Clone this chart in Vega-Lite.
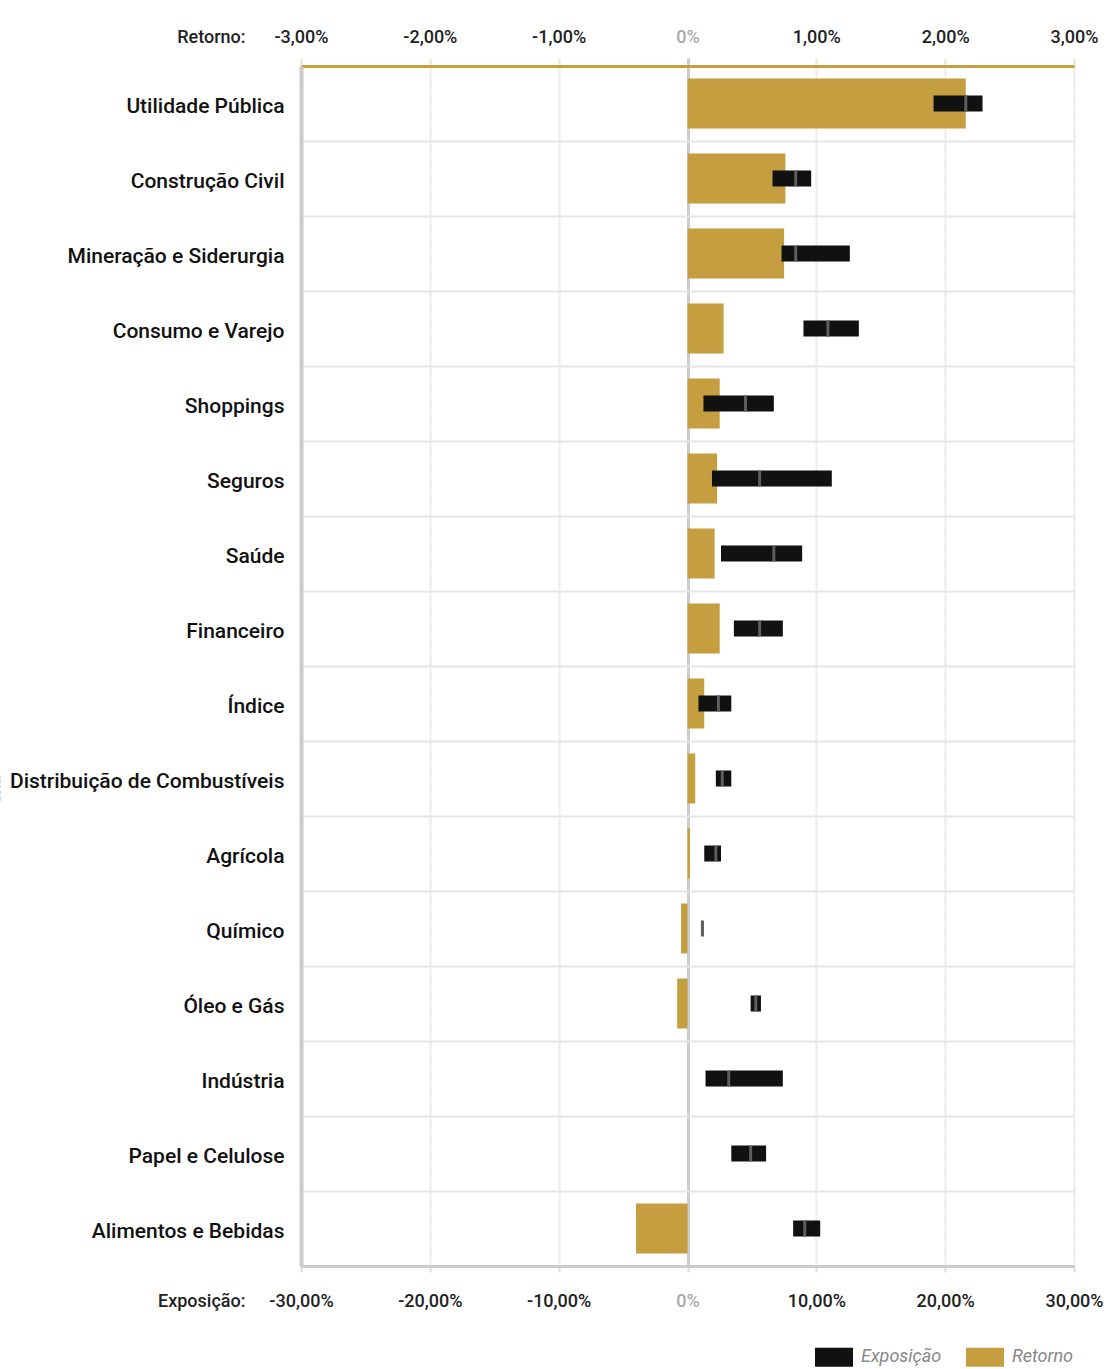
{
  "$schema": "https://vega.github.io/schema/vega-lite/v6.json",
  "width": 773,
  "height": 1200,
  "autosize": {"type": "none"},
  "padding": {"left": 301, "top": 66, "right": 45, "bottom": 103},
  "background": "#ffffff",
  "config": {
    "font": "Roboto",
    "view": {"stroke": null}
  },
  "data": {
    "values": [
      {"setor": "Utilidade Pública", "retorno": 0.0216, "expMin": 0.191, "expMax": 0.229, "expAtual": 0.216},
      {"setor": "Construção Civil", "retorno": 0.0076, "expMin": 0.066, "expMax": 0.096, "expAtual": 0.084},
      {"setor": "Mineração e Siderurgia", "retorno": 0.0075, "expMin": 0.073, "expMax": 0.126, "expAtual": 0.084},
      {"setor": "Consumo e Varejo", "retorno": 0.0028, "expMin": 0.090, "expMax": 0.133, "expAtual": 0.109},
      {"setor": "Shoppings", "retorno": 0.0025, "expMin": 0.0124, "expMax": 0.067, "expAtual": 0.045},
      {"setor": "Seguros", "retorno": 0.0023, "expMin": 0.019, "expMax": 0.112, "expAtual": 0.056},
      {"setor": "Saúde", "retorno": 0.0021, "expMin": 0.026, "expMax": 0.089, "expAtual": 0.067},
      {"setor": "Financeiro", "retorno": 0.0025, "expMin": 0.036, "expMax": 0.074, "expAtual": 0.056},
      {"setor": "Índice", "retorno": 0.0013, "expMin": 0.0085, "expMax": 0.034, "expAtual": 0.024},
      {"setor": "Distribuição de Combustíveis", "retorno": 0.0006, "expMin": 0.022, "expMax": 0.034, "expAtual": 0.027},
      {"setor": "Agrícola", "retorno": 0.0002, "expMin": 0.013, "expMax": 0.026, "expAtual": 0.022},
      {"setor": "Químico", "retorno": -0.0005, "expMin": 0.0115, "expMax": 0.0115, "expAtual": 0.0116},
      {"setor": "Óleo e Gás", "retorno": -0.0008, "expMin": 0.049, "expMax": 0.057, "expAtual": 0.053},
      {"setor": "Indústria", "retorno": 0.0, "expMin": 0.014, "expMax": 0.074, "expAtual": 0.032},
      {"setor": "Papel e Celulose", "retorno": 0.0, "expMin": 0.034, "expMax": 0.061, "expAtual": 0.049},
      {"setor": "Alimentos e Bebidas", "retorno": -0.004, "expMin": 0.082, "expMax": 0.103, "expAtual": 0.091}
    ]
  },
  "encoding": {
    "y": {
      "field": "setor",
      "type": "nominal",
      "sort": null,
      "scale": {"paddingInner": 0, "paddingOuter": 0},
      "axis": {
        "title": "Setor",
        "titleColor": "#cccccc",
        "titleFontSize": 12,
        "titleFontWeight": "normal",
        "titleX": -298,
        "titleY": 722,
        "titleAngle": -90,
        "titleAlign": "center",
        "titleBaseline": "bottom",
        "labelFontSize": 21,
        "labelFontWeight": 500,
        "labelColor": "#111111",
        "labelPadding": 17,
        "labelOffset": 3,
        "labelLimit": 400,
        "ticks": false,
        "tickBand": "extent",
        "grid": true,
        "gridColor": "#e6e6e6",
        "gridWidth": 2,
        "domainColor": "#cccccc",
        "domainWidth": 4
      }
    }
  },
  "layer": [
    {
      "mark": {"type": "bar", "size": 50},
      "encoding": {
        "x": {
          "field": "retorno",
          "type": "quantitative",
          "scale": {"domain": [-0.03, 0.03], "nice": false},
          "axis": {
            "orient": "top",
            "values": [-0.03, -0.02, -0.01, 0, 0.01, 0.02, 0.03],
            "labelExpr": "datum.value === 0 ? '0%' : replace(replace(format(datum.value * 100, '.2f') + '%', '.', ','), '\u2212', '-')",
            "labelFlush": false,
            "labelOverlap": false,
            "labelFontSize": 18,
            "labelFontWeight": 500,
            "labelColor": {"condition": {"test": "datum.value === 0", "value": "#aaaaaa"}, "value": "#222222"},
            "labelPadding": 12,
            "tickSize": 8,
            "tickColor": {"condition": {"test": "datum.value === 0", "value": "#cccccc"}, "value": "#e9e3cf"},
            "tickWidth": {"condition": {"test": "datum.value === 0", "value": 3}, "value": 2},
            "grid": true,
            "gridColor": {"condition": {"test": "datum.value === 0", "value": "#cccccc"}, "value": "#e9e3cf"},
            "gridWidth": {"condition": {"test": "datum.value === 0", "value": 3}, "value": 2},
            "gridDash": {"condition": {"test": "datum.value === 0", "value": []}, "value": [8, 8]},
            "domainColor": "#c49e3f",
            "domainWidth": 3,
            "title": "Retorno:",
            "titleFontSize": 18,
            "titleFontWeight": 500,
            "titleColor": "#222222",
            "titleAngle": 0,
            "titleAlign": "right",
            "titleBaseline": "middle",
            "titleX": -56,
            "titleY": -29
          }
        },
        "color": {
          "datum": "Retorno",
          "type": "nominal",
          "scale": {"domain": ["Exposição", "Retorno"], "range": ["#111111", "#c49e3f"]},
          "legend": {
            "title": null,
            "orient": "none",
            "direction": "horizontal",
            "legendX": 514,
            "legendY": 1272,
            "symbolType": "M-1,-0.5H1V0.5H-1Z",
            "symbolSize": 1444,
            "symbolStrokeWidth": 0,
            "symbolOpacity": 1,
            "labelFontSize": 18,
            "labelFontStyle": "italic",
            "labelColor": "#888888",
            "labelOffset": 8,
            "columnPadding": 24,
            "padding": 0
          }
        }
      }
    },
    {
      "mark": {"type": "bar", "size": 16},
      "encoding": {
        "x": {
          "field": "expMin",
          "type": "quantitative",
          "scale": {"domain": [-0.3, 0.3], "nice": false},
          "axis": {
            "orient": "bottom",
            "values": [-0.3, -0.2, -0.1, 0, 0.1, 0.2, 0.3],
            "labelExpr": "datum.value === 0 ? '0%' : replace(replace(format(datum.value * 100, '.2f') + '%', '.', ','), '\u2212', '-')",
            "labelFlush": false,
            "labelOverlap": false,
            "labelFontSize": 18,
            "labelFontWeight": 500,
            "labelColor": {"condition": {"test": "datum.value === 0", "value": "#aaaaaa"}, "value": "#222222"},
            "labelPadding": 20,
            "tickSize": 6,
            "tickColor": "#dddddd",
            "tickWidth": 2,
            "grid": true,
            "gridColor": {"condition": {"test": "datum.value === 0", "value": "#cccccc"}, "value": "#efefef"},
            "gridWidth": {"condition": {"test": "datum.value === 0", "value": 3}, "value": 2},
            "domainColor": "#cccccc",
            "domainWidth": 3,
            "title": "Exposição:",
            "titleFontSize": 18,
            "titleFontWeight": 500,
            "titleColor": "#222222",
            "titleAngle": 0,
            "titleAlign": "right",
            "titleBaseline": "middle",
            "titleX": -56,
            "titleY": 35
          }
        },
        "x2": {"field": "expMax"},
        "color": {"datum": "Exposição", "type": "nominal"}
      }
    },
    {
      "mark": {"type": "tick", "orient": "vertical", "size": 16, "thickness": 3, "color": "#5e5e5e", "opacity": 1},
      "encoding": {
        "x": {
          "field": "expAtual",
          "type": "quantitative",
          "scale": {"domain": [-0.3, 0.3], "nice": false},
          "axis": null
        }
      }
    }
  ],
  "resolve": {"scale": {"x": "independent"}, "axis": {"x": "independent"}}
}
